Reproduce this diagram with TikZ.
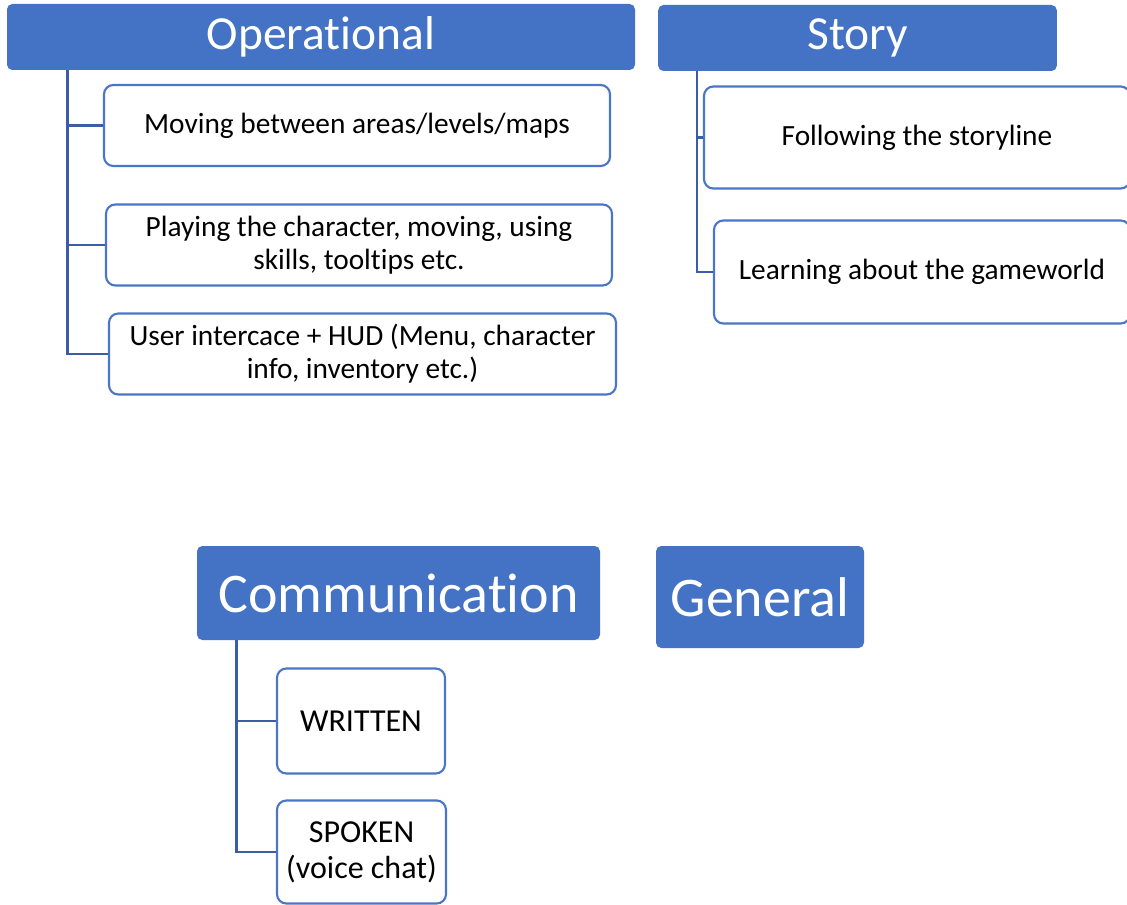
\documentclass[tikz,border=0pt]{standalone}
\usepackage{fontspec}
\setmainfont{Carlito}[Ligatures=NoCommon]
\usepackage{tikz}
\usetikzlibrary{calc}
\definecolor{head}{HTML}{4472C4}
\definecolor{edge}{HTML}{4A76C6}
\definecolor{wire}{HTML}{3A5DA6}
\tikzset{
  hdr/.style={fill=head, draw=none, rounded corners=4pt, text=white, align=center,
              inner sep=0pt, font=\fontsize{35.6}{42}\selectfont},
  bighdr/.style={hdr, font=\fontsize{42}{48}\selectfont},
  item/.style={draw=edge, line width=1.6pt, fill=white, rounded corners=7pt, align=center,
               inner sep=0pt, text=black, font=\fontsize{22}{24.8}\selectfont},
  bigitem/.style={item, font=\fontsize{24}{27}\selectfont},
  link/.style={draw=wire, line width=2pt},
}

\begin{document}
\begin{tikzpicture}[x=0.75pt, y=-0.75pt]
  \clip (0,0) rectangle (1127,905);
  \fill[white] (0,0) rectangle (1127,905);

  % top row: headings
  \node[hdr, minimum width=471pt, minimum height=49.5pt] (oper) at (321,37) {Operational};
  \node[hdr, minimum width=299pt, minimum height=49.5pt] (story) at (857.5,38) {Story};

  % operational branch
  \node[item, minimum width=379.5pt, minimum height=60.75pt] (maps) at (357,125.5) {Moving between areas/levels/maps};
  \node[item, minimum width=379.5pt, minimum height=60.75pt] (play) at (359,245) {Playing the character, moving, using\\skills, tooltips etc.};
  \node[item, minimum width=380.25pt, minimum height=60.75pt] (hud) at (362.5,354) {User intercace + HUD (Menu, character\\info, inventory etc.)};

  % story branch
  \node[item, minimum width=319.5pt, minimum height=76.5pt] (plot) at (917,137.5) {Following the storyline};
  \node[item, minimum width=312pt, minimum height=77.25pt] (lore) at (922,272) {Learning about the gameworld};

  % bottom row: headings
  \node[bighdr, minimum width=302.25pt, minimum height=70.5pt] (comm) at (398.5,593) {Communication};
  \node[bighdr, minimum width=156pt, minimum height=76.5pt] (gen) at (760,597) {General};

  % communication branch
  \node[bigitem, minimum width=126pt, minimum height=78.75pt] (written) at (361,721) {WRITTEN};
  \node[bigitem, minimum width=126.75pt, minimum height=77.25pt] (spoken) at (361.5,852) {SPOKEN\\(voice chat)};

  % trunks under each heading
  \coordinate (optrunk) at ($(oper.south west)+(61,0)$);
  \coordinate (sttrunk) at ($(story.south west)+(39,0)$);
  \coordinate (cotrunk) at ($(comm.south west)+(40,0)$);

  \draw[link] (optrunk) |- (maps.west);
  \draw[link] (optrunk) |- (play.west);
  \draw[link] (optrunk) |- (hud.west);
  \draw[link] (sttrunk) |- (plot.west);
  \draw[link] (sttrunk) |- (lore.west);
  \draw[link] (cotrunk) |- (written.west);
  \draw[link] (cotrunk) |- (spoken.west);
\end{tikzpicture}
\end{document}
